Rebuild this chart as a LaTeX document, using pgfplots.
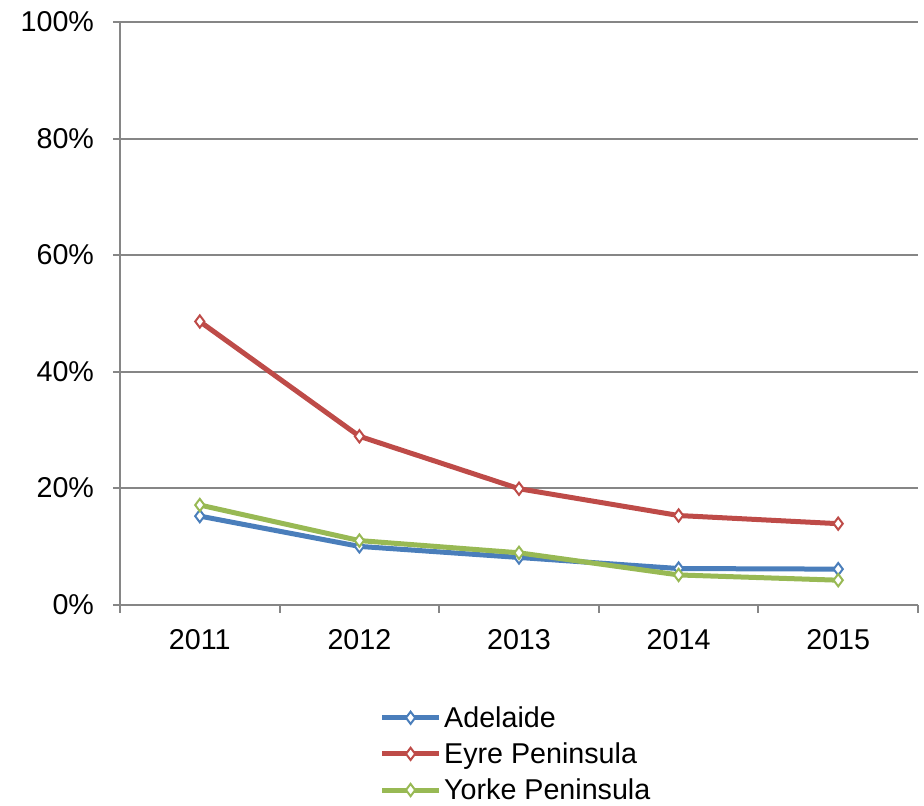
\documentclass[border=0pt]{standalone}
\usepackage{fontspec}
\setmainfont{Liberation Sans}
\usepackage{pgfplots}
\pgfplotsset{compat=1.18}
\definecolor{cblue}{HTML}{4A7EBB}
\definecolor{cred}{HTML}{BE4B48}
\definecolor{cgreen}{HTML}{98B954}
\definecolor{cgrid}{HTML}{868686}
\begin{document}
\begin{tikzpicture}
\path[use as bounding box] (-90pt,-150.75pt) rectangle (603pt,453.5pt);
\begin{axis}[
  at={(0,0)}, anchor=south west,
  scale only axis, width=598.5pt, height=437pt,
  xmin=0.5, xmax=5.5, ymin=0, ymax=100,
  axis x line*=bottom, axis y line*=left,
  axis line style={cgrid, line width=1.5pt, -},
  xtick={1,2,3,4,5},
  xticklabels={2011,2012,2013,2014,2015},
  minor xtick={0.5,1.5,2.5,3.5,4.5,5.5},
  major x tick style={draw=none},
  minor x tick style={cgrid, line width=1.5pt},
  minor tick length=6pt,
  ytick={0,20,40,60,80,100},
  yticklabels={0\%,20\%,40\%,60\%,80\%,100\%},
  y tick style={cgrid, line width=1.5pt},
  major tick length=5pt,
  tick align=outside,
  ymajorgrids, grid style={cgrid, line width=1.5pt},
  /pgf/number format/assume math mode=true,
  tick label style={font=\fontsize{21.5}{25}\selectfont, text=black},
  yticklabel style={xshift=-11pt},
  xticklabel style={yshift=-10pt},
  legend style={at={(0.32,-0.165)}, anchor=north west, draw=none, fill=none,
    font=\fontsize{21.5}{25}\selectfont, row sep=6pt,
    cells={anchor=west}},
  legend image code/.code={\draw[mark repeat=2,mark phase=2,#1] plot coordinates {(0cm,0cm)(0.75cm,0cm)(1.5cm,0cm)};},
  every axis plot/.append style={line width=3.75pt, mark=diamond*, mark size=4.6pt,
     mark options={fill=white, line width=1.5pt}},
  clip=false,
]
\addplot[cblue] coordinates {(1,15.2)(2,10.0)(3,8.1)(4,6.2)(5,6.1)};
\addlegendentry{Adelaide}
\addplot[cred] coordinates {(1,48.6)(2,28.9)(3,19.9)(4,15.3)(5,13.9)};
\addlegendentry{Eyre Peninsula}
\addplot[cgreen] coordinates {(1,17.1)(2,11.0)(3,8.9)(4,5.1)(5,4.2)};
\addlegendentry{Yorke Peninsula}
\end{axis}
\end{tikzpicture}
\end{document}
